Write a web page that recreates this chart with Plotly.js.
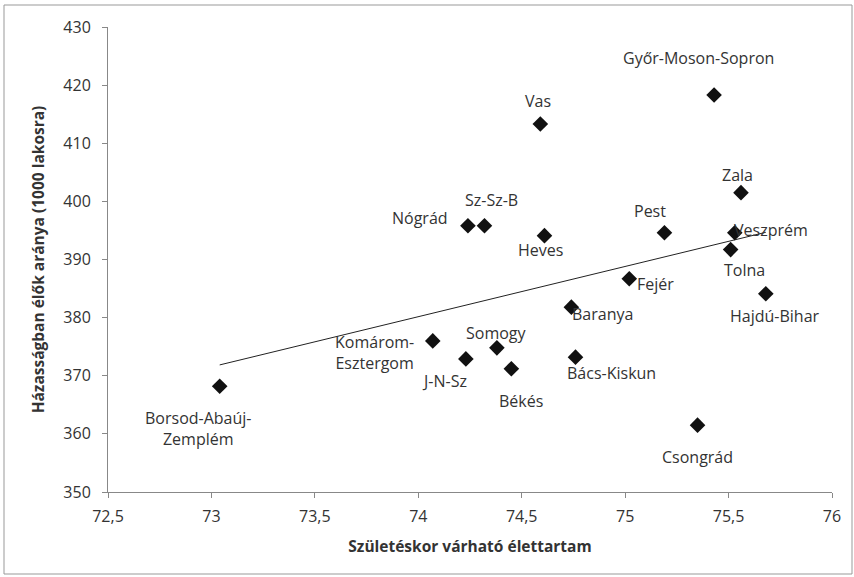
<!DOCTYPE html>
<html>
<head>
<meta charset="utf-8">
<script src="https://cdn.plot.ly/plotly-3.0.1.min.js"></script>
<style>
html,body{margin:0;padding:0;background:#fff;}
#chart{width:854px;height:577px;}
</style>
</head>
<body>
<div id="chart"></div>
<script>
// ---- data ----
var counties = ["Borsod-Abaúj-<br>Zemplém","Komárom-<br>Esztergom","J-N-Sz","Somogy","Békés","Baranya","Bács-Kiskun","Csongrád","Hajdú-Bihar","Fejér","Tolna","Veszprém","Zala","Pest","Győr-Moson-Sopron","Vas","Heves","Nógrád","Sz-Sz-B"];
var lifeExpectancy = [73.04,74.07,74.23,74.38,74.45,74.74,74.76,75.35,75.68,75.02,75.51,75.53,75.56,75.19,75.43,74.59,74.61,74.24,74.32];
var marriedRate = [368.2,376.0,372.9,374.8,371.2,381.8,373.2,361.5,384.1,386.7,391.7,394.6,401.5,394.6,418.3,413.3,394.1,395.8,395.8];
var xTickVals = [72.5,73,73.5,74,74.5,75,75.5,76];
var xTickText = ["72,5","73","73,5","74","74,5","75","75,5","76"];
var yTickVals = [350,360,370,380,390,400,410,420,430];

// ---- label placement (pixel offsets from each point, layout only) ----
var labelOffsets = [[-22,42],[-58,12],[-21,22],[0,-15],[10,32],[31,7],[36,16],[0,32],[9,22],[26,5],[14,20],[36,-3],[-3,-18],[-14,-22],[-16,-37],[-2,-23],[-4,14],[-48,-8],[7,-26]];

// linear trend (least squares) from the data
var n = lifeExpectancy.length, sx=0, sy=0, sxx=0, sxy=0;
for (var i=0;i<n;i++){sx+=lifeExpectancy[i];sy+=marriedRate[i];sxx+=lifeExpectancy[i]*lifeExpectancy[i];sxy+=lifeExpectancy[i]*marriedRate[i];}
var slope=(n*sxy-sx*sy)/(n*sxx-sx*sx), icpt=(sy-slope*sx)/n;
var xmin=Math.min.apply(null,lifeExpectancy), xmax=Math.max.apply(null,lifeExpectancy);

var font = "Open Sans, Noto Sans, sans-serif";
var txtColor = "#333";

var traces = [
  {x:[xmin,xmax], y:[icpt+slope*xmin, icpt+slope*xmax], mode:"lines", line:{color:"#222",width:1}, hoverinfo:"skip", showlegend:false},
  {x:lifeExpectancy, y:marriedRate, mode:"markers", marker:{symbol:"diamond", size:12, color:"#111"}, showlegend:false}
];

var annotations = counties.map(function(c,i){
  return {x:lifeExpectancy[i], y:marriedRate[i], text:c, showarrow:false, xref:"x", yref:"y",
          xshift:labelOffsets[i][0], yshift:-labelOffsets[i][1],
          font:{family:font,size:16,color:txtColor}, align:"center"};
});

var m = {l:108, r:22, t:27, b:85};
var pw = 854-m.l-m.r, ph = 577-m.t-m.b;
var layout = {
  width:854, height:577, margin:m,
  paper_bgcolor:"#fff", plot_bgcolor:"#fff",
  font:{family:font, color:txtColor, size:16},
  xaxis:{range:[72.5,76], tickvals:xTickVals, ticktext:xTickText, showgrid:false, zeroline:false,
         showline:true, linecolor:"#888", linewidth:1, ticks:"outside", ticklen:5, tickcolor:"#888",
         ticklabelstandoff:5,
         tickfont:{family:font,size:16,color:txtColor},
         title:{text:"<b>Születéskor várható élettartam</b>", font:{family:font,size:15.5,color:txtColor}, standoff:14}},
  yaxis:{range:[350,430], tickvals:yTickVals, showgrid:false, zeroline:false,
         showline:true, linecolor:"#888", linewidth:1, ticks:"outside", ticklen:5, tickcolor:"#888",
         ticklabelstandoff:8,
         tickfont:{family:font,size:16,color:txtColor},
         title:{text:"<b>Házasságban élők aránya (1000 lakosra)</b>", font:{family:font,size:15.5,color:txtColor}, standoff:14}},
  annotations:annotations,
  shapes:[{type:"rect", xref:"paper", yref:"paper",
           x0:(4-m.l)/pw, x1:(852-m.l)/pw, y0:1-(574-m.t)/ph, y1:1-(5-m.t)/ph,
           line:{color:"#999",width:1}, fillcolor:"rgba(0,0,0,0)"}]
};
Plotly.newPlot("chart", traces, layout, {displayModeBar:false, staticPlot:true});
</script>
</body>
</html>
